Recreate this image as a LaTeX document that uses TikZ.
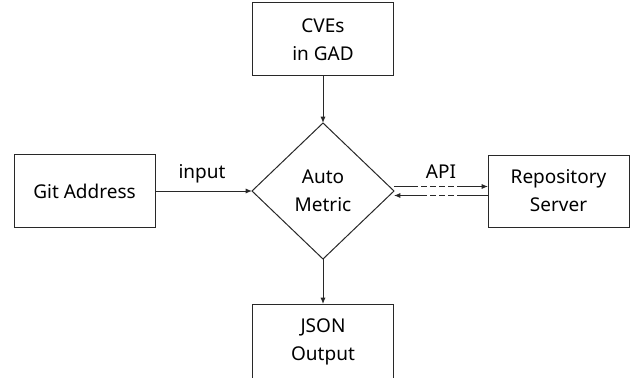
\documentclass[tikz,border=0pt]{standalone}
\usepackage{fontspec}
\setmainfont{Noto Sans}
\usetikzlibrary{
  shapes.geometric,
  arrows.meta,
  positioning
}
\definecolor{linecolor}{RGB}{40, 40, 40}
\definecolor{labelcolor}{RGB}{0, 0, 0}
\tikzset{
blocktext/.style={
  align=center,
  font=\fontsize{19}{28}\selectfont,
  text=labelcolor
},
box/.style={
  draw=linecolor,
  line width=1pt,
  inner sep=0pt,
  outer sep=0pt,
  minimum width=141pt,
  minimum height=73pt,
  blocktext
},
decision/.style={
  diamond,
  draw=linecolor,
  line width=1pt,
  inner sep=0pt,
  outer sep=0pt,
  minimum width=142pt,
  minimum height=136pt,
  blocktext
},
edgelabel/.style={
  blocktext
},
arrow/.style={
  -{Latex[length=2.2mm,width=1.8mm]},
  line width=1pt,
  draw=linecolor
}
}

\begin{document}
\begin{tikzpicture}[x=1pt, y=-1pt]
      \useasboundingbox (0,0) rectangle (631,377);

      \node[decision] (metric) at (323,191) {Auto\\Metric};
      \node[box, above=47pt of metric] (cves) {CVEs\\in GAD};
      \node[box, left=97pt of metric] (git) {Git Address};
      \node[box, right=94pt of metric, minimum height=72pt] (repo) {Repository\\Server};
      \node[box, below=45pt of metric, minimum height=76pt] (json) {JSON\\Output};

      \node[edgelabel] (inlabel) at (202,174) {input};
      \node[edgelabel] (apilabel) at (441,172) {API};

      \draw[arrow] (cves) -- (metric);
      \draw[arrow] (git) -- (metric);
      \draw[arrow] (metric) -- (json);

      % request / response, dashed in the middle
      \draw[arrow, dash pattern=on 24pt off 3pt on 6pt off 3pt on 6pt off 3pt on 6pt off 3pt on 6pt off 3pt on 60pt]
        ([yshift=4.5pt]metric.east) -- ([yshift=4.5pt]repo.west);
      \draw[arrow, dash pattern=on 31pt off 3pt on 6pt off 3pt on 6pt off 3pt on 6pt off 3pt on 60pt]
        ([yshift=-4.5pt]repo.west) -- ([yshift=-4.5pt]metric.east);
    \end{tikzpicture}
\end{document}
